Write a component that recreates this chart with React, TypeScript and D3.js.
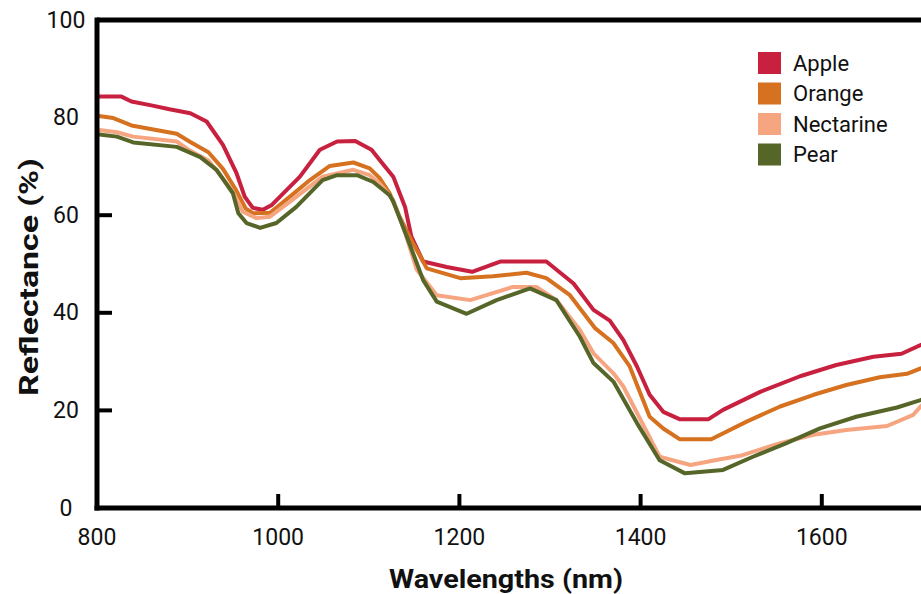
import React from "react";
import * as d3 from "d3";

type Pt = [number, number];

const seriesNames = ["Apple", "Orange", "Nectarine", "Pear"];
const seriesColors = ["#c8203f", "#d5711f", "#f6a581", "#566629"];

const apple: Pt[] = [
  [800, 84.3], [827, 84.3], [838, 83.3], [860, 82.5], [880, 81.7], [903, 80.9], [921, 79.2],
  [939, 74.4], [954, 68.6], [963, 63.8], [972, 61.5], [983, 61.1], [993, 62.1], [1024, 67.9],
  [1046, 73.4], [1065, 75.1], [1085, 75.2], [1103, 73.4], [1112, 71.3], [1127, 67.9], [1140, 61.7],
  [1147, 55.6], [1160, 50.5], [1186, 49.4], [1214, 48.4], [1245, 50.5], [1296, 50.5], [1326, 46.0],
  [1348, 40.6], [1366, 38.4], [1381, 34.4], [1396, 29.0], [1410, 23.2], [1425, 19.7], [1443, 18.2],
  [1475, 18.2], [1491, 20.1], [1532, 23.8], [1576, 27.0], [1616, 29.3], [1657, 31.0], [1688, 31.6],
  [1709, 33.4], [1730, 35.0],
];

const orange: Pt[] = [
  [800, 80.4], [818, 79.9], [838, 78.4], [888, 76.7], [903, 75.0], [923, 72.9], [939, 69.5],
  [954, 65.0], [964, 61.4], [972, 60.4], [991, 60.5], [1013, 63.8], [1035, 67.2], [1057, 70.1],
  [1083, 70.8], [1101, 69.6], [1112, 67.6], [1123, 64.5], [1134, 59.7], [1147, 54.9], [1164, 49.1],
  [1201, 47.1], [1237, 47.5], [1274, 48.2], [1296, 47.1], [1322, 43.6], [1350, 36.8], [1370, 33.8],
  [1388, 29.0], [1410, 18.7], [1425, 16.3], [1443, 14.1], [1478, 14.1], [1517, 17.7], [1554, 20.8],
  [1591, 23.2], [1627, 25.2], [1664, 26.8], [1694, 27.5], [1709, 28.6], [1730, 30.0],
];

const nectarine: Pt[] = [
  [800, 77.5], [822, 77.0], [840, 76.1], [888, 75.1], [903, 73.2], [923, 71.2], [939, 67.5],
  [950, 64.8], [961, 60.7], [976, 59.4], [991, 59.7], [1013, 62.8], [1049, 67.9], [1083, 69.3],
  [1101, 68.2], [1112, 66.5], [1127, 63.1], [1140, 56.5], [1153, 48.8], [1175, 43.6], [1212, 42.6],
  [1259, 45.3], [1285, 45.3], [1307, 42.6], [1333, 36.5], [1348, 31.7], [1370, 27.6], [1381, 24.9],
  [1421, 10.5], [1455, 8.8], [1488, 10.0], [1510, 10.7], [1554, 13.3], [1591, 15.0], [1627, 16.0],
  [1672, 16.8], [1701, 19.1], [1709, 20.8], [1730, 24.0],
];

const pear: Pt[] = [
  [800, 76.6], [822, 76.1], [840, 74.9], [888, 74.0], [914, 71.9], [932, 69.3], [950, 64.5],
  [956, 60.4], [965, 58.4], [980, 57.4], [998, 58.4], [1020, 61.7], [1049, 67.2], [1065, 68.2],
  [1087, 68.2], [1105, 66.8], [1123, 64.1], [1127, 62.8], [1142, 55.6], [1160, 46.7], [1175, 42.3],
  [1208, 39.8], [1241, 42.6], [1278, 45.0], [1307, 42.6], [1333, 35.1], [1348, 29.7], [1370, 25.9],
  [1396, 17.4], [1421, 9.8], [1449, 7.1], [1491, 7.8], [1524, 10.5], [1561, 13.3], [1598, 16.3],
  [1638, 18.7], [1683, 20.6], [1709, 22.1], [1730, 23.5],
];

const xTicks = [1000, 1200, 1400, 1600];
const xTickLabels = [800, 1000, 1200, 1400, 1600];
const yTickMarks = [20, 40, 60];
const yTickLabels = [0, 20, 40, 60, 80, 100];

const W = 921;
const H = 594;

export default function App() {
  const x = d3.scaleLinear().domain([800, 1800]).range([97, 1003]);
  const y = d3.scaleLinear().domain([0, 100]).range([508, 20]);
  const line = d3
    .line<Pt>()
    .x((d) => x(d[0]))
    .y((d) => y(d[1]))
    .curve(d3.curveLinear);
  const allSeries = [apple, orange, nectarine, pear];
  const font = "Roboto, 'Noto Sans', sans-serif";
  const x0 = x(800);
  const yBottom = y(0);
  const yTop = y(100);

  return (
    <svg
      width={W}
      height={H}
      style={{ position: "absolute", left: 0, top: 0, background: "#fff" }}
      fontFamily={font}
    >
      <rect x={0} y={0} width={W} height={H} fill="#fff" />
      {allSeries.map((s, i) => (
        <path
          key={seriesNames[i]}
          d={line(s) || ""}
          fill="none"
          stroke={seriesColors[i]}
          strokeWidth={4}
          strokeLinejoin="round"
        />
      ))}
      {/* frame */}
      <line x1={x0} x2={W} y1={yTop} y2={yTop} stroke="#000" strokeWidth={5} />
      <line x1={x0 - 2.5} x2={W} y1={yBottom} y2={yBottom} stroke="#000" strokeWidth={5} />
      <line x1={x0} x2={x0} y1={yTop - 2.5} y2={yBottom + 2.5} stroke="#000" strokeWidth={5} />
      {xTicks.map((t) => (
        <line key={"xt" + t} x1={x(t)} x2={x(t)} y1={yBottom} y2={yBottom - 14} stroke="#000" strokeWidth={4} />
      ))}
      {yTickMarks.map((t) => (
        <line key={"yt" + t} x1={x0} x2={x0 + 15} y1={y(t)} y2={y(t)} stroke="#000" strokeWidth={4} />
      ))}
      {xTickLabels.map((t) => (
        <text key={"xl" + t} x={x(t)} y={545} textAnchor="middle" fontSize={23} fill="#111">
          {t}
        </text>
      ))}
      {yTickLabels.map((t) => (
        <text
          key={"yl" + t}
          x={66}
          y={y(t)}
          textAnchor="middle"
          dominantBaseline="central"
          fontSize={23}
          fill="#111"
        >
          {t}
        </text>
      ))}
      <text
        x={506}
        y={588}
        textAnchor="middle"
        fontSize={26}
        fontWeight="bold"
        fill="#111"
        textLength={234}
        lengthAdjust="spacingAndGlyphs"
      >
        Wavelengths (nm)
      </text>
      <text
        transform={`translate(38,277) rotate(-90)`}
        textAnchor="middle"
        fontSize={26}
        fontWeight="bold"
        fill="#111"
        textLength={238}
        lengthAdjust="spacingAndGlyphs"
      >
        Reflectance (%)
      </text>
      {seriesNames.map((n, i) => (
        <g key={"lg" + n} transform={`translate(758,${52 + i * 30.5})`}>
          <rect x={0} y={0} width={23} height={22} fill={seriesColors[i]} />
          <text x={35} y={11} dominantBaseline="central" fontSize={22} fill="#111">
            {n}
          </text>
        </g>
      ))}
    </svg>
  );
}
